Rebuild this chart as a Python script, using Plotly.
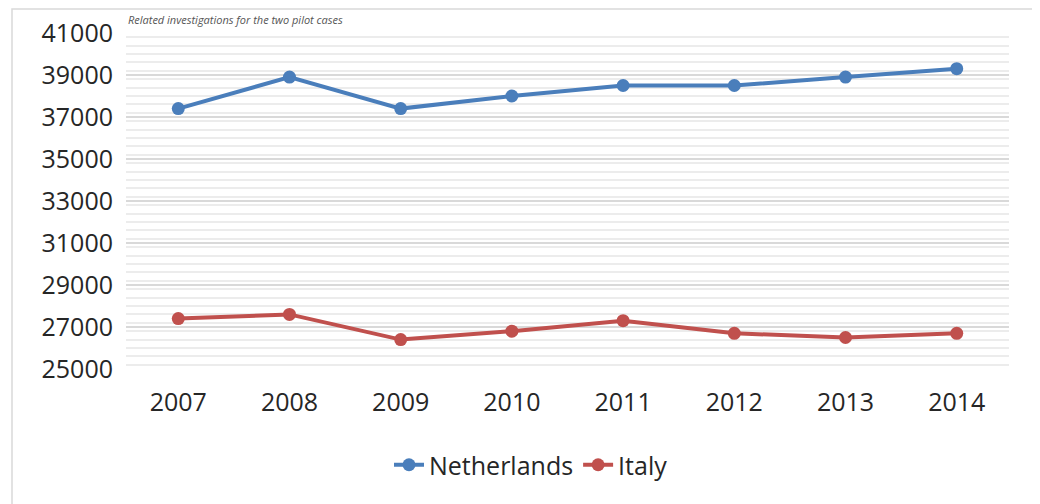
import plotly.graph_objects as go

years = ["2007", "2008", "2009", "2010", "2011", "2012", "2013", "2014"]
netherlands = [37400, 38900, 37400, 38000, 38500, 38500, 38900, 39300]
italy = [27400, 27600, 26400, 26800, 27300, 26700, 26500, 26700]
y_ticks = [25000, 27000, 29000, 31000, 33000, 35000, 37000, 39000, 41000]

BLUE = "#4a7ebb"
RED = "#c0504d"
FONT = "Open Sans"
OFF = 8  # default body margin of the html page


def main():
    fig = go.Figure()
    fig.add_trace(go.Scatter(x=years, y=netherlands, name="Netherlands",
                             mode="lines+markers",
                             line=dict(color=BLUE, width=4),
                             marker=dict(color=BLUE, size=13)))
    fig.add_trace(go.Scatter(x=years, y=italy, name="Italy",
                             mode="lines+markers",
                             line=dict(color=RED, width=4),
                             marker=dict(color=RED, size=13)))

    # plot area wanted on screen: x 126..1009, y 33..369
    l, t = 126 - OFF, 33 - OFF
    r, b = 1040 + OFF - 1009, 504 + OFF - 369
    pw, ph = 1040 - l - r, 504 - t - b

    def px(x):  # screen x -> paper
        return (x - OFF - l) / pw

    def py(y):  # screen y -> paper
        return (504 - b - (y - OFF)) / ph

    fig.update_layout(
        width=1040, height=504,
        margin=dict(l=l, r=r, t=t, b=b, autoexpand=False),
        plot_bgcolor="white", paper_bgcolor="white",
        font=dict(family=FONT, size=25, color="#262626"),
        showlegend=True,
        legend=dict(orientation="h", x=px(531), xanchor="center",
                    y=py(465), yanchor="middle",
                    font=dict(size=25), itemwidth=30, tracegroupgap=0),
        shapes=[dict(type="rect", xref="paper", yref="paper",
                     x0=px(12), x1=px(1034), y0=py(530), y1=py(9),
                     line=dict(color="#d9d9d9", width=1.5), layer="below")],
        annotations=[dict(text="<i>Related investigations for the two pilot cases</i>",
                          xref="paper", yref="paper", x=px(126), y=py(10),
                          xanchor="left", yanchor="top", showarrow=False,
                          font=dict(size=11, color="#555555"))],
    )
    fig.update_xaxes(type="category", showgrid=False, zeroline=False,
                     showline=False, ticks="", ticklabelstandoff=16,
                     automargin=False, tickfont=dict(size=25))
    fig.update_yaxes(range=[25000, 41000], tickvals=y_ticks,
                     tickformat="d",
                     showgrid=True, gridcolor="#d9d9d9", gridwidth=1.5,
                     minor=dict(dtick=400, showgrid=True,
                                gridcolor="#ececec", gridwidth=1.5),
                     zeroline=False, showline=False, ticks="",
                     ticklabelstandoff=12, automargin=False,
                     tickfont=dict(size=25))

    fig.write_html("out.html")


if __name__ == "__main__":
    main()
